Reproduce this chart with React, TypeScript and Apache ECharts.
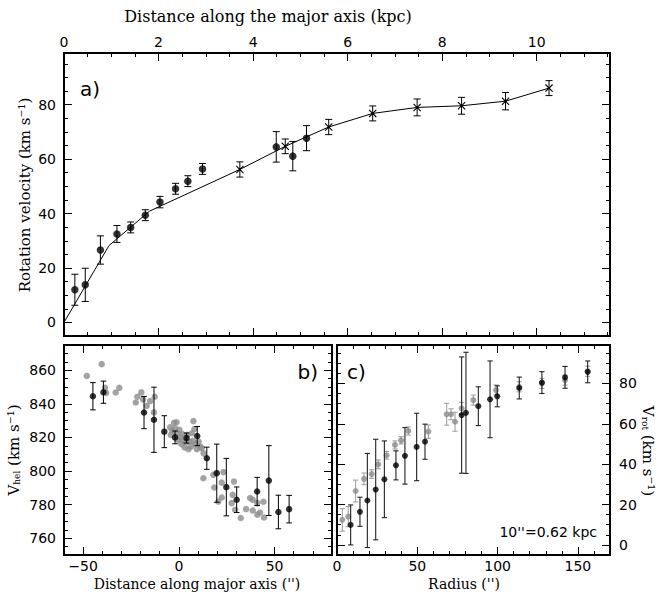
import React, { useEffect, useRef } from "react";
import * as echarts from "echarts";

// ---------- Panel a: rotation curve (kpc, km/s) ----------
const aDotsX = [0.23, 0.45, 0.77, 1.12, 1.41, 1.72, 2.03, 2.36, 2.62, 2.93, 4.49, 4.84, 5.13];
const aDotsV = [12.0, 13.8, 26.6, 32.5, 34.9, 39.4, 44.2, 49.1, 51.9, 56.4, 64.5, 61.1, 67.7];
const aDotsErr = [5.7, 6.1, 5.2, 3.1, 2.0, 2.0, 2.1, 2.0, 2.0, 2.0, 5.6, 5.4, 4.6];

const aCrossX = [3.72, 4.68, 5.6, 6.53, 7.47, 8.41, 9.34, 10.26];
const aCrossV = [56.2, 64.7, 71.8, 76.8, 79.0, 79.6, 81.3, 86.1];
const aCrossErr = [2.8, 2.7, 2.8, 2.75, 3.1, 3.1, 3.2, 2.75];

const aLineX = [0, 0.95, 1.81, 3.72, 4.68, 5.6, 6.53, 7.47, 8.41, 9.34, 10.26];
const aLineV = [0, 28.2, 40.9, 56.2, 64.7, 71.8, 76.8, 79.0, 79.6, 81.3, 86.1];

// ---------- Panel b: heliocentric velocity vs distance along major axis ----------
const bBlackX = [-44.9, -39.4, -18.2, -13.0, -7.6, -2.0, 4.0, 9.6, 14.6, 19.8, 24.8, 30.2, 40.9, 47.0, 52.0, 57.6];
const bBlackV = [844.5, 846.9, 834.8, 830.5, 823.4, 820.0, 819.6, 820.8, 807.6, 798.7, 790.4, 782.9, 787.8, 794.3, 775.6, 777.3];
const bBlackErr = [8.1, 6.6, 9.6, 19.4, 9.5, 3.8, 3.0, 5.7, 6.6, 17.3, 17.1, 7.6, 8.4, 20.8, 10.0, 8.2];

const bGrayX = [
  -48.1, -40.3, -38.6, -38.0, -33.0, -31.1, -22.5, -21.7, -19.6, -18.7, -16.8, -15.0, -12.6, -13.0,
  -4.6, -4.2, -3.4, -2.5, -2.0, -1.2, -1.0, -0.4, 0.3, 0.8, 1.3, 1.8, 2.4, 3.0, 3.6, 4.4, 5.0, 5.6,
  6.3, 6.8, 7.3, 7.6, 8.1, 8.6, 9.4, 10.3, 11.2, 12.0, 12.9,
  12.8, 18.0, 18.5, 20.6, 22.4, 22.4, 23.3, 27.6, 28.1, 28.8, 29.4, 32.3, 35.1, 37.2, 38.6, 38.6,
  41.0, 41.0, 42.4, 44.5, 44.2,
];
const bGrayV = [
  856.6, 863.6, 849.5, 846.5, 846.7, 849.5, 840.8, 844.2, 846.8, 842.6, 838.8, 841.6, 844.2, 834.9,
  826.0, 821.5, 824.0, 828.7, 825.5, 829.0, 822.5, 818.5, 824.5, 820.0, 816.0, 822.0, 818.0, 814.0,
  817.0, 821.5, 813.0, 817.5, 814.5, 822.5, 818.0, 829.7, 825.0, 816.0, 813.0, 817.5, 814.5, 813.5,
  810.5,
  795.7, 797.7, 790.2, 781.8, 784.2, 793.1, 799.3, 780.9, 785.8, 793.7, 776.9, 772.0, 777.3, 783.9,
  782.8, 776.5, 780.9, 774.0, 775.3, 772.3, 781.7,
];

// ---------- Panel c: rotation velocity vs radius ----------
const cBlackX = [8.5, 14.3, 18.9, 24.1, 29.5, 36.7, 42.3, 49.6, 54.8, 77.6, 80.3, 88.0, 95.3, 99.8, 113.5, 127.6, 142.0, 156.1];
const cBlackV = [9.9, 16.4, 22.0, 27.4, 32.5, 39.4, 44.1, 48.5, 51.1, 64.3, 65.4, 68.7, 72.1, 73.6, 77.7, 80.4, 83.0, 85.7];
const cBlackErr = [9.9, 7.2, 23.3, 24.9, 19.0, 7.2, 14.0, 16.7, 8.7, 28.8, 30.0, 9.6, 19.0, 5.2, 5.4, 5.4, 5.4, 5.4];

const cGrayX = [3.3, 7.0, 11.6, 16.8, 21.6, 25.7, 30.9, 36.1, 39.9, 44.4, 56.9, 68.3, 71.0, 73.5, 77.6, 84.9, 99.0, 113.5, 127.6, 142.0, 156.1];
const cGrayV = [12.4, 14.0, 26.7, 32.7, 35.1, 39.9, 44.4, 49.5, 51.8, 56.4, 56.1, 64.7, 64.7, 61.0, 67.6, 71.7, 76.7, 78.3, 80.0, 81.6, 86.0];
const cGrayErr = [5.6, 5.0, 5.4, 2.9, 2.1, 2.2, 1.9, 2.0, 1.8, 2.0, 3.3, 5.4, 2.7, 4.7, 3.0, 2.5, 2.5, 2.5, 2.5, 2.5, 2.5];

// ---------- tick labels ----------
const aTopTicks = [0, 2, 4, 6, 8, 10];
const aVelTicks = [0, 20, 40, 60, 80];
const bDistTicks = [-50, 0, 50];
const bVelTicks = [760, 780, 800, 820, 840, 860];
const cRadTicks = [0, 50, 100, 150];
const cVelTicks = [0, 20, 40, 60, 80];

const SANS = "DejaVu Sans";
const SERIF = "DejaVu Serif";

function steps(a: number, b: number, s: number) {
  const out: number[] = [];
  for (let v = a; v <= b + 1e-9; v += s) out.push(Math.round(v * 1000) / 1000);
  return out;
}

function axisPair(kind: "x" | "y", gridIndex: number, position: string, min: number, max: number,
  majors: number[], minors: number[], labels: boolean, margin: number) {
  const common: any = {
    type: "value", gridIndex, position, min, max,
    axisLine: { show: false, onZero: false },
    splitLine: { show: false },
  };
  return [
    {
      ...common,
      axisTick: { show: true, inside: true, length: 8, customValues: majors, lineStyle: { color: "#000", width: 1 } },
      axisLabel: {
        show: labels, customValues: majors, margin, color: "#000", fontFamily: SANS, fontSize: 14,
        formatter: (v: number) => String(v).replace("-", "\u2212"),
      },
    },
    {
      ...common,
      axisTick: { show: true, inside: true, length: 4, customValues: minors, lineStyle: { color: "#000", width: 1 } },
      axisLabel: { show: false },
    },
  ];
}

function errBars(color: string, cap: number, width: number) {
  return (params: any, api: any) => {
    const x = api.value(0), y = api.value(1), e = api.value(2);
    const p1 = api.coord([x, y + e]);
    const p2 = api.coord([x, y - e]);
    const style = { stroke: color, lineWidth: width };
    return {
      type: "group",
      children: [
        { type: "line", shape: { x1: p1[0], y1: p1[1], x2: p2[0], y2: p2[1] }, style },
        { type: "line", shape: { x1: p1[0] - cap, y1: p1[1], x2: p1[0] + cap, y2: p1[1] }, style },
        { type: "line", shape: { x1: p2[0] - cap, y1: p2[1], x2: p2[0] + cap, y2: p2[1] }, style },
      ],
    };
  };
}

function crossRender(params: any, api: any) {
  const p = api.coord([api.value(0), api.value(1)]);
  const s = 3.6;
  const style = { stroke: "#000", lineWidth: 1.1 };
  return {
    type: "group",
    children: [
      { type: "line", shape: { x1: p[0] - s, y1: p[1] - s, x2: p[0] + s, y2: p[1] + s }, style },
      { type: "line", shape: { x1: p[0] - s, y1: p[1] + s, x2: p[0] + s, y2: p[1] - s }, style },
      { type: "circle", shape: { cx: p[0], cy: p[1], r: 1.2 }, style: { fill: "#000" } },
    ],
  };
}

const zip3 = (x: number[], y: number[], e: number[]) => x.map((v, i) => [v, y[i], e[i]]);
const zip2 = (x: number[], y: number[]) => x.map((v, i) => [v, y[i]]);

export default function App() {
  const ref = useRef<HTMLDivElement>(null);
  useEffect(() => {
    if (!ref.current) return;
    const chart = echarts.init(ref.current, undefined, { renderer: "svg" });

    const aX = [0, 11.55], aY = [-5, 99];
    const bX = [-60, 80], bY = [750, 875];
    const cX = [0, 170], cY = [-5, 99];

    const xAxis = [
      ...axisPair("x", 0, "bottom", aX[0], aX[1], aTopTicks, steps(0, 11.5, 0.5), false, 4),
      ...axisPair("x", 0, "top", aX[0], aX[1], aTopTicks, steps(0, 11.5, 0.5), true, 4),
      ...axisPair("x", 1, "bottom", bX[0], bX[1], bDistTicks, steps(-60, 80, 10), true, 4),
      ...axisPair("x", 1, "top", bX[0], bX[1], bDistTicks, steps(-60, 80, 10), false, 4),
      ...axisPair("x", 2, "bottom", cX[0], cX[1], cRadTicks, steps(0, 170, 10), true, 4),
      ...axisPair("x", 2, "top", cX[0], cX[1], cRadTicks, steps(0, 170, 10), false, 4),
    ];
    const yAxis = [
      ...axisPair("y", 0, "left", aY[0], aY[1], aVelTicks, steps(-5, 95, 5), true, 8),
      ...axisPair("y", 0, "right", aY[0], aY[1], aVelTicks, steps(-5, 95, 5), false, 8),
      ...axisPair("y", 1, "left", bY[0], bY[1], bVelTicks, steps(750, 875, 5), true, 8),
      ...axisPair("y", 1, "right", bY[0], bY[1], bVelTicks, steps(750, 875, 5), false, 8),
      ...axisPair("y", 2, "left", cY[0], cY[1], cVelTicks, steps(-5, 95, 5), false, 8),
      ...axisPair("y", 2, "right", cY[0], cY[1], cVelTicks, steps(-5, 95, 5), true, 9),
    ];

    const gridStyle = { show: true, borderColor: "#000", borderWidth: 2, backgroundColor: "transparent" };

    const option: any = {
      animation: false,
      grid: [
        { left: 64, top: 53, width: 546, height: 283, ...gridStyle },
        { left: 64, top: 345, width: 268, height: 210, ...gridStyle },
        { left: 337, top: 345, width: 273, height: 210, ...gridStyle },
      ],
      xAxis,
      yAxis,
      series: [
        // panel a
        {
          type: "line", xAxisIndex: 0, yAxisIndex: 0, data: zip2(aLineX, aLineV),
          showSymbol: false, lineStyle: { color: "#000", width: 1 }, z: 1,
        },
        {
          type: "custom", xAxisIndex: 0, yAxisIndex: 0, encode: { x: 0, y: 1 },
          data: zip3(aDotsX, aDotsV, aDotsErr), renderItem: errBars("#000", 3.5, 1), z: 2,
        },
        {
          type: "custom", xAxisIndex: 0, yAxisIndex: 0, encode: { x: 0, y: 1 },
          data: zip3(aCrossX, aCrossV, aCrossErr), renderItem: errBars("#000", 3.5, 1), z: 2,
        },
        {
          type: "scatter", xAxisIndex: 0, yAxisIndex: 0, data: zip2(aDotsX, aDotsV),
          symbol: "circle", symbolSize: 7.5, itemStyle: { color: "#000" }, z: 3,
        },
        {
          type: "custom", xAxisIndex: 0, yAxisIndex: 0, encode: { x: 0, y: 1 },
          data: zip2(aCrossX, aCrossV), renderItem: crossRender, z: 3,
        },
        // panel b
        {
          type: "scatter", xAxisIndex: 4, yAxisIndex: 4, data: zip2(bGrayX, bGrayV),
          symbol: "circle", symbolSize: 6.5, itemStyle: { color: "#8c8c8c" }, z: 1,
        },
        {
          type: "custom", xAxisIndex: 4, yAxisIndex: 4, encode: { x: 0, y: 1 },
          data: zip3(bBlackX, bBlackV, bBlackErr), renderItem: errBars("#000", 2.8, 1), z: 2,
        },
        {
          type: "scatter", xAxisIndex: 4, yAxisIndex: 4, data: zip2(bBlackX, bBlackV),
          symbol: "circle", symbolSize: 6.5, itemStyle: { color: "#000" }, z: 3,
        },
        // panel c
        {
          type: "custom", xAxisIndex: 8, yAxisIndex: 8, encode: { x: 0, y: 1 },
          data: zip3(cGrayX, cGrayV, cGrayErr), renderItem: errBars("#9a9a9a", 2.6, 1), z: 1,
        },
        {
          type: "scatter", xAxisIndex: 8, yAxisIndex: 8, data: zip2(cGrayX, cGrayV),
          symbol: "circle", symbolSize: 6, itemStyle: { color: "#8c8c8c" }, z: 1,
        },
        {
          type: "custom", xAxisIndex: 8, yAxisIndex: 8, encode: { x: 0, y: 1 },
          data: zip3(cBlackX, cBlackV, cBlackErr), renderItem: errBars("#222", 2.6, 1.1), z: 2,
        },
        {
          type: "scatter", xAxisIndex: 8, yAxisIndex: 8, data: zip2(cBlackX, cBlackV),
          symbol: "circle", symbolSize: 6, itemStyle: { color: "#000" }, z: 3,
        },
      ],
      graphic: [
        {
          type: "text", x: 268, y: 16,
          style: { text: "Distance along the major axis (kpc)", font: `16px "${SERIF}"`, fill: "#000", align: "center", verticalAlign: "middle" },
        },
        {
          type: "text", x: 25, y: 195, rotation: Math.PI / 2,
          style: { text: "Rotation velocity (km s\u207B\u00B9)", font: `15px "${SERIF}"`, fill: "#000", align: "center", verticalAlign: "middle" },
        },
        {
          type: "text", x: 80, y: 89,
          style: { text: "a)", font: `20px "${SANS}"`, fill: "#000", align: "left", verticalAlign: "middle" },
        },
        {
          type: "text", x: 318, y: 372,
          style: { text: "b)", font: `20px "${SANS}"`, fill: "#000", align: "right", verticalAlign: "middle" },
        },
        {
          type: "text", x: 347, y: 372,
          style: { text: "c)", font: `20px "${SANS}"`, fill: "#000", align: "left", verticalAlign: "middle" },
        },
        {
          type: "text", x: 597, y: 532,
          style: { text: "10''=0.62 kpc", font: `14px "${SANS}"`, fill: "#000", align: "right", verticalAlign: "middle" },
        },
        {
          type: "text", x: 14, y: 450, rotation: Math.PI / 2,
          style: {
            text: "{v|V}{s|hel}{v| (km s\u207B\u00B9)}", align: "center", verticalAlign: "middle",
            rich: {
              v: { fontFamily: SERIF, fontSize: 15, fill: "#000", color: "#000" },
              s: { fontFamily: SERIF, fontSize: 9, fill: "#000", color: "#000", verticalAlign: "bottom", padding: [6, 0, 0, 0] },
            },
          },
        },
        {
          type: "text", x: 648, y: 451, rotation: -Math.PI / 2,
          style: {
            text: "{v|V}{s|rot}{v| (km s\u207B\u00B9)}", align: "center", verticalAlign: "middle",
            rich: {
              v: { fontFamily: SERIF, fontSize: 15, fill: "#000", color: "#000" },
              s: { fontFamily: SERIF, fontSize: 9, fill: "#000", color: "#000", verticalAlign: "bottom", padding: [6, 0, 0, 0] },
            },
          },
        },
        {
          type: "text", x: 197, y: 584,
          style: { text: "Distance along major axis ('')", font: `14px "${SERIF}"`, fill: "#000", align: "center", verticalAlign: "middle" },
        },
        {
          type: "text", x: 464, y: 584,
          style: { text: "Radius ('')", font: `14px "${SERIF}"`, fill: "#000", align: "center", verticalAlign: "middle" },
        },
      ],
    };
    chart.setOption(option);
    return () => chart.dispose();
  }, []);
  return (
    <div
      ref={ref}
      style={{ position: "fixed", left: 0, top: 0, width: 658, height: 600, background: "#fff" }}
    />
  );
}
